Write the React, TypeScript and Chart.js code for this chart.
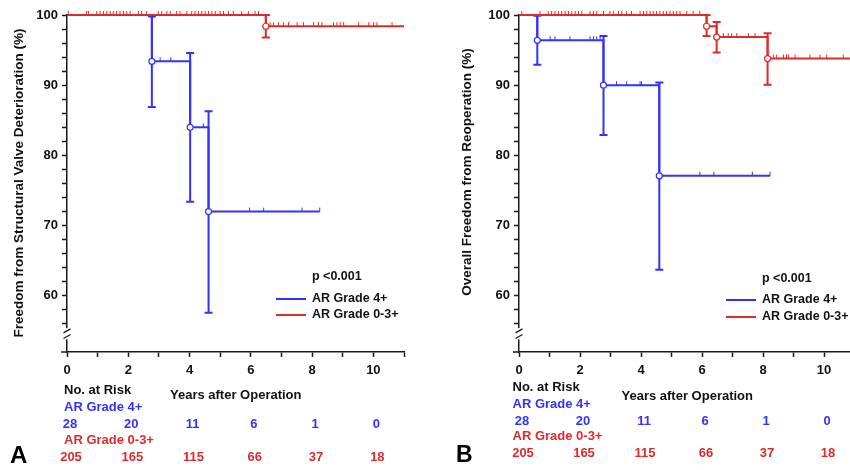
import React, { useEffect, useRef } from 'react';
import { Chart, registerables } from 'chart.js';

Chart.register(...registerables);

const FONT = '"Liberation Sans", Arial, Helvetica, sans-serif';
const BLUE = '#3232ff';
const RED = '#dc2b2b';
const INK = '#111111';
const AXIS = '#1a1a1a';

// shared labels / risk table
const X_LABEL_YEARS = [0, 2, 4, 6, 8, 10];
const Y_LABEL_VALUES = [60, 70, 80, 90, 100];
const RISK_YEARS = [0, 2, 4, 6, 8, 10];
const RISK_GRADE4 = [28, 20, 11, 6, 1, 0];
const RISK_GRADE03 = [205, 165, 115, 66, 37, 18];
const SERIES_NAMES = ['AR Grade 4+', 'AR Grade 0-3+'];
const P_TEXT = 'p <0.001';

// ---------- Panel A: Freedom from Structural Valve Deterioration ----------
const A_G4_TIME = [0, 2.77, 4.02, 4.62, 8.25];
const A_G4_SURV = [100, 93.4, 84.0, 72.0, 72.0];
const A_G4_EVENT_TIME = [2.77, 4.02, 4.62];
const A_G4_UPPER = [99.8, 94.6, 86.3];
const A_G4_LOWER = [86.9, 73.4, 57.6];
const A_G4_CENSOR = [3.04, 3.39, 4.45, 5.96, 6.42, 7.67, 8.25];

const A_G03_TIME = [0, 6.49, 11];
const A_G03_SURV = [100, 98.4, 98.4];
const A_G03_EVENT_TIME = [6.49];
const A_G03_UPPER = [100];
const A_G03_LOWER = [96.8];
const A_G03_CENSOR = [0.04, 0.64, 0.7, 0.97, 1.08, 1.19, 1.3, 1.41, 1.51, 1.62, 1.73, 1.84, 1.95, 2.06, 2.33, 2.44, 2.6, 2.98, 3.09, 3.26, 3.37, 3.58, 3.69, 3.91, 4.07, 4.18, 4.29, 4.4, 4.51, 4.62, 4.73, 4.84, 5.0, 5.11, 5.27, 5.43, 5.7, 5.92, 6.14, 6.25, 6.63, 6.74, 6.91, 7.07, 7.23, 7.51, 7.72, 8.05, 8.21, 8.32, 8.7, 8.81, 8.92, 9.03, 9.52, 9.85, 10.01, 10.12, 10.61];

// ---------- Panel B: Overall Freedom from Reoperation ----------
const B_G4_TIME = [0, 0.6, 2.77, 4.6, 8.23];
const B_G4_SURV = [100, 96.4, 90.0, 77.1, 77.1];
const B_G4_EVENT_TIME = [0.6, 2.77, 4.6];
const B_G4_UPPER = [99.9, 97.0, 90.4];
const B_G4_LOWER = [92.9, 82.9, 63.7];
const B_G4_CENSOR = [1.02, 1.18, 1.67, 2.33, 2.44, 2.55, 2.66, 3.2, 3.53, 3.97, 4.02, 5.93, 6.39, 7.65, 8.23];

const B_G03_TIME = [0, 6.15, 6.48, 8.15, 11];
const B_G03_SURV = [100, 98.4, 96.85, 93.8, 93.8];
const B_G03_EVENT_TIME = [6.15, 6.48, 8.15];
const B_G03_UPPER = [100, 99.0, 97.4];
const B_G03_LOWER = [97.0, 94.65, 90.05];
const B_G03_CENSOR = [0.09, 0.69, 0.96, 1.07, 1.18, 1.29, 1.4, 1.51, 1.62, 1.73, 1.84, 1.95, 2.06, 2.33, 2.44, 2.55, 2.77, 2.98, 3.09, 3.26, 3.37, 3.53, 3.69, 3.97, 4.08, 4.19, 4.3, 4.4, 4.51, 4.62, 4.73, 4.84, 4.95, 5.06, 5.17, 5.28, 5.5, 5.71, 5.93, 6.7, 6.86, 6.97, 7.14, 7.52, 7.74, 8.34, 8.45, 8.67, 8.77, 8.83, 9.05, 9.54, 9.87, 10.09, 10.63];

type Series = {
  color: string;
  time: number[];
  surv: number[];
  evTime: number[];
  upper: number[];
  lower: number[];
  censor: number[];
};

type PanelCfg = {
  letter: string;
  title: string;
  canvasWidth: number;
  axisWidth: number;
  padRight: number;
  titleX: number;
  titleY: number;
  legendLineX: number;
  legendTextX: number;
  pY: number;
  legendY: number[];
  risk: { left: number; headY: number; yearsX: number; yearsY: number; g4LabelY: number; g4Y: number; g03LabelY: number; g03Y: number };
  letterX: number;
  letterY: number;
  letterSize: number;
  series: Series[];
};

function stepValue(time: number[], surv: number[], t: number) {
  let v = surv[0];
  for (let i = 0; i < time.length; i++) if (time[i] <= t + 1e-9) v = surv[i];
  return v;
}

function makePlugin(cfg: PanelCfg) {
  return {
    id: 'panelDecor' + cfg.letter,
    beforeDatasetsDraw(chart: any) {
      const { ctx, scales } = chart;
      const x = scales.x;
      const y = scales.y;
      for (const s of cfg.series) {
        ctx.save();
        ctx.strokeStyle = s.color;
        ctx.lineWidth = 1;
        for (const t of s.censor) {
          const px = x.getPixelForValue(t);
          const py = y.getPixelForValue(stepValue(s.time, s.surv, t));
          ctx.beginPath();
          ctx.moveTo(px, py);
          ctx.lineTo(px, py - 4);
          ctx.stroke();
        }
        ctx.lineWidth = 2;
        s.evTime.forEach((t, i) => {
          const px = x.getPixelForValue(t);
          const pu = y.getPixelForValue(s.upper[i]);
          const pl = y.getPixelForValue(s.lower[i]);
          ctx.beginPath();
          ctx.moveTo(px, pu);
          ctx.lineTo(px, pl);
          ctx.moveTo(px - 4, pu);
          ctx.lineTo(px + 4, pu);
          ctx.moveTo(px - 4, pl);
          ctx.lineTo(px + 4, pl);
          ctx.stroke();
        });
        ctx.restore();
      }
    },
    afterDraw(chart: any) {
      const { ctx, scales, chartArea } = chart;
      const x = scales.x;
      const y = scales.y;
      ctx.save();
      // axis break
      const left = chartArea.left;
      const gTop = y.getPixelForValue(55.4);
      const gBot = y.getPixelForValue(53.8);
      ctx.fillStyle = '#ffffff';
      ctx.fillRect(left - 3, gTop, 6, gBot - gTop);
      ctx.strokeStyle = AXIS;
      ctx.lineWidth = 1.3;
      for (const v of [55.0, 54.2]) {
        const py = y.getPixelForValue(v);
        ctx.beginPath();
        ctx.moveTo(left - 3.5, py + 2);
        ctx.lineTo(left + 3.5, py - 2);
        ctx.stroke();
      }
      // x axis extends slightly left of y axis
      ctx.lineWidth = 1.5;
      ctx.beginPath();
      ctx.moveTo(left - 6, chartArea.bottom);
      ctx.lineTo(left, chartArea.bottom);
      ctx.stroke();

      // y axis title
      ctx.fillStyle = INK;
      ctx.font = `bold 13.5px ${FONT}`;
      ctx.textAlign = 'center';
      ctx.textBaseline = 'middle';
      ctx.save();
      ctx.translate(cfg.titleX, cfg.titleY);
      ctx.rotate(-Math.PI / 2);
      ctx.fillText(cfg.title, 0, 0);
      ctx.restore();

      // legend
      ctx.font = `bold 12.5px ${FONT}`;
      ctx.textAlign = 'left';
      ctx.fillStyle = INK;
      ctx.fillText(P_TEXT, cfg.legendTextX, cfg.pY);
      cfg.series.forEach((s, i) => {
        ctx.strokeStyle = s.color;
        ctx.lineWidth = 2;
        ctx.beginPath();
        ctx.moveTo(cfg.legendLineX, cfg.legendY[i]);
        ctx.lineTo(cfg.legendLineX + 30, cfg.legendY[i]);
        ctx.stroke();
        ctx.fillStyle = INK;
        ctx.fillText(SERIES_NAMES[i], cfg.legendTextX, cfg.legendY[i]);
      });

      // risk table
      const r = cfg.risk;
      ctx.font = `bold 13px ${FONT}`;
      ctx.textAlign = 'left';
      ctx.fillStyle = INK;
      ctx.fillText('No. at Risk', r.left, r.headY);
      ctx.fillText('Years after Operation', r.yearsX, r.yearsY);
      ctx.fillStyle = cfg.series[0].color;
      ctx.fillText(SERIES_NAMES[0], r.left, r.g4LabelY);
      ctx.fillStyle = cfg.series[1].color;
      ctx.fillText(SERIES_NAMES[1], r.left, r.g03LabelY);
      ctx.textAlign = 'center';
      RISK_YEARS.forEach((yr, i) => {
        const px = x.getPixelForValue(yr) + 3;
        ctx.fillStyle = cfg.series[0].color;
        ctx.fillText(String(RISK_GRADE4[i]), px, r.g4Y);
        ctx.fillStyle = cfg.series[1].color;
        ctx.fillText(String(RISK_GRADE03[i]), px + 1, r.g03Y);
      });

      // panel letter
      ctx.fillStyle = '#000';
      ctx.font = `bold ${cfg.letterSize}px ${FONT}`;
      ctx.textAlign = 'left';
      ctx.textBaseline = 'alphabetic';
      ctx.fillText(cfg.letter, cfg.letterX, cfg.letterY);
      ctx.restore();
    },
  };
}

function buildChart(canvas: HTMLCanvasElement, cfg: PanelCfg) {
  const tickFont = { family: FONT, size: 13, weight: 'bold' as const };
  return new Chart(canvas, {
    type: 'line',
    data: {
      datasets: cfg.series.map((s, idx) => ({
        label: SERIES_NAMES[idx],
        data: s.time.map((t, i) => ({ x: t, y: s.surv[i] })),
        borderColor: s.color,
        borderWidth: 2,
        stepped: 'before' as const,
        fill: false,
        clip: false as any,
        pointRadius: (c: any) => (s.evTime.includes(s.time[c.dataIndex]) ? 3 : 0),
        pointHoverRadius: 0,
        pointBackgroundColor: '#ffffff',
        pointBorderColor: s.color,
        pointBorderWidth: 1.2,
        order: idx === 0 ? 1 : 0,
      })),
    },
    options: {
      responsive: false,
      animation: false,
      devicePixelRatio: 1,
      events: [],
      layout: { padding: { left: 0, top: 15, right: cfg.padRight, bottom: 0 } },
      plugins: { legend: { display: false }, tooltip: { enabled: false }, title: { display: false } },
      scales: {
        x: {
          type: 'linear',
          min: 0,
          max: 11,
          afterFit: (s: any) => {
            s.height = 118;
          },
          ticks: {
            stepSize: 1,
            autoSkip: false,
            maxRotation: 0,
            padding: 6,
            color: INK,
            font: tickFont,
            callback: (v: any) => (X_LABEL_YEARS.includes(Number(v)) ? String(v) : ''),
          },
          grid: { display: true, drawOnChartArea: false, drawTicks: true, tickLength: 5, tickColor: AXIS, tickWidth: 1.5 },
          border: { display: true, color: AXIS, width: 1.5 },
        },
        y: {
          type: 'linear',
          min: 52,
          max: 100,
          afterFit: (s: any) => {
            s.width = cfg.axisWidth;
          },
          afterBuildTicks: (s: any) => {
            s.ticks = s.ticks.filter((t: any) => t.value >= 56);
          },
          ticks: {
            stepSize: 2,
            autoSkip: false,
            padding: 4,
            color: INK,
            font: tickFont,
            callback: (v: any) => (Y_LABEL_VALUES.includes(Number(v)) ? String(v) : ''),
          },
          grid: { display: true, drawOnChartArea: false, drawTicks: true, tickLength: 5, tickColor: AXIS, tickWidth: 1.5 },
          border: { display: true, color: AXIS, width: 1.5 },
        },
      },
    },
    plugins: [makePlugin(cfg)],
  } as any);
}

const PANEL_A: PanelCfg = {
  letter: 'A',
  title: 'Freedom from Structural Valve Deterioration (%)',
  canvasWidth: 440,
  axisWidth: 67,
  padRight: 36,
  titleX: 19,
  titleY: 183,
  legendLineX: 276,
  legendTextX: 312,
  pY: 277,
  legendY: [299, 315],
  risk: { left: 64, headY: 390, yearsX: 170, yearsY: 395, g4LabelY: 407, g4Y: 424, g03LabelY: 440, g03Y: 457 },
  letterX: 10,
  letterY: 463,
  letterSize: 24,
  series: [
    { color: BLUE, time: A_G4_TIME, surv: A_G4_SURV, evTime: A_G4_EVENT_TIME, upper: A_G4_UPPER, lower: A_G4_LOWER, censor: A_G4_CENSOR },
    { color: RED, time: A_G03_TIME, surv: A_G03_SURV, evTime: A_G03_EVENT_TIME, upper: A_G03_UPPER, lower: A_G03_LOWER, censor: A_G03_CENSOR },
  ],
};

const PANEL_B: PanelCfg = {
  letter: 'B',
  title: 'Overall Freedom from Reoperation (%)',
  canvasWidth: 430,
  axisWidth: 79,
  padRight: 15.5,
  titleX: 27,
  titleY: 172,
  legendLineX: 286,
  legendTextX: 322,
  pY: 279,
  legendY: [300, 317],
  risk: { left: 72.5, headY: 387, yearsX: 181.5, yearsY: 396, g4LabelY: 404, g4Y: 421, g03LabelY: 436, g03Y: 453 },
  letterX: 16,
  letterY: 462,
  letterSize: 23,
  series: [
    { color: BLUE, time: B_G4_TIME, surv: B_G4_SURV, evTime: B_G4_EVENT_TIME, upper: B_G4_UPPER, lower: B_G4_LOWER, censor: B_G4_CENSOR },
    { color: RED, time: B_G03_TIME, surv: B_G03_SURV, evTime: B_G03_EVENT_TIME, upper: B_G03_UPPER, lower: B_G03_LOWER, censor: B_G03_CENSOR },
  ],
};

function Panel({ cfg, left }: { cfg: PanelCfg; left: number }) {
  const ref = useRef<HTMLCanvasElement | null>(null);
  useEffect(() => {
    if (!ref.current) return;
    const chart = buildChart(ref.current, cfg);
    return () => chart.destroy();
  }, [cfg]);
  return (
    <canvas
      ref={ref}
      width={cfg.canvasWidth}
      height={470}
      style={{ position: 'absolute', left, top: 0, width: cfg.canvasWidth, height: 470, display: 'block' }}
    />
  );
}

export default function App() {
  return (
    <div
      style={{
        position: 'fixed',
        left: 0,
        top: 0,
        width: 850,
        height: 470,
        overflow: 'hidden',
        background: '#ffffff',
      }}
    >
      <Panel cfg={PANEL_A} left={0} />
      <Panel cfg={PANEL_B} left={440} />
    </div>
  );
}
